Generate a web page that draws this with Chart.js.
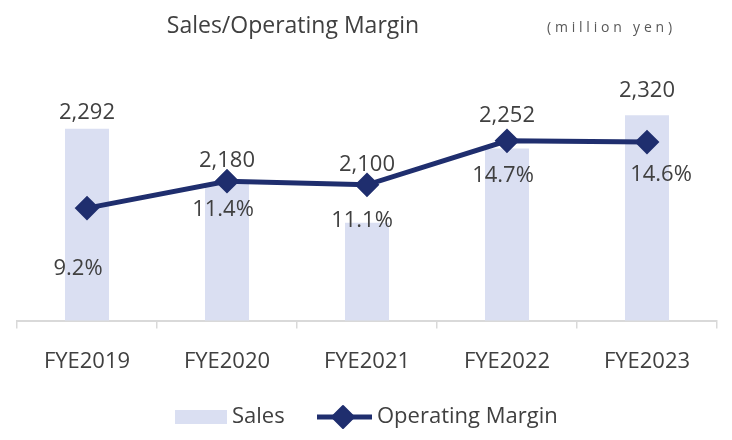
<!DOCTYPE html>
<html>
<head>
<meta charset="utf-8">
<script src="https://cdn.jsdelivr.net/npm/chart.js@4/dist/chart.umd.min.js"></script>
<style>
  html, body { margin: 0; padding: 0; background: #ffffff; }
  #wrap { width: 732px; height: 440px; position: relative; }
</style>
</head>
<body>
<div id="wrap"><canvas id="c" width="732" height="440"></canvas></div>
<script>
// ---- data ----
const categories = ["FYE2019", "FYE2020", "FYE2021", "FYE2022", "FYE2023"];
const salesValues = [2292, 2180, 2100, 2252, 2320];
const marginValues = [9.2, 11.4, 11.1, 14.7, 14.6];
const salesLabels = ["2,292", "2,180", "2,100", "2,252", "2,320"];
const marginLabels = ["9.2%", "11.4%", "11.1%", "14.7%", "14.6%"];
const chartTitle = "Sales/Operating Margin";
const unitText = "(million yen)";

const FONT = '"Open Sans", "Noto Sans", sans-serif';
const TEXT = '#404040';
const BAR = '#dadff2';
const NAVY = '#1f2e6e';

const labelPlugin = {
  id: 'labelPlugin',
  afterDatasetsDraw(chart) {
    const ctx = chart.ctx;
    const bars = chart.getDatasetMeta(0).data;
    const pts = chart.getDatasetMeta(1).data;
    const salesOff = [16, 20, 20, 25, 24];
    const pctDy = [61, 29, 36, 35, 33];
    const pctDx = [-9, -4, -5, -4, 14];
    ctx.save();
    ctx.fillStyle = TEXT;
    ctx.font = '22px ' + FONT;
    ctx.textAlign = 'center';
    ctx.textBaseline = 'middle';
    for (let i = 0; i < categories.length; i++) {
      const bx = bars[i].x;
      const top = Math.min(bars[i].y, pts[i].y);
      ctx.fillText(salesLabels[i], bx, top - salesOff[i]);
      ctx.fillText(marginLabels[i], pts[i].x + pctDx[i], pts[i].y + pctDy[i]);
    }
    ctx.restore();
  },
  afterDraw(chart) {
    const ctx = chart.ctx;
    ctx.save();
    // title
    ctx.fillStyle = TEXT;
    ctx.font = '23px ' + FONT;
    ctx.textAlign = 'center';
    ctx.textBaseline = 'middle';
    ctx.fillText(chartTitle, 293, 26);
    // unit
    ctx.fillStyle = '#595959';
    ctx.font = '14px ' + FONT;
    ctx.letterSpacing = '3.8px';
    ctx.textAlign = 'left';
    ctx.fillText(unitText, 547, 28);
    ctx.letterSpacing = '0px';
    // legend
    const ly = 417;
    ctx.fillStyle = BAR;
    ctx.fillRect(175, 410, 52, 14);
    ctx.fillStyle = TEXT;
    ctx.font = '22px ' + FONT;
    ctx.textAlign = 'left';
    ctx.fillText(chart.data.datasets[0].label, 232, ly);
    ctx.strokeStyle = NAVY;
    ctx.lineWidth = 5;
    ctx.beginPath();
    ctx.moveTo(317, ly); ctx.lineTo(372, ly);
    ctx.stroke();
    ctx.fillStyle = NAVY;
    ctx.lineJoin = 'round';
    ctx.lineWidth = 2;
    ctx.beginPath();
    ctx.moveTo(343, ly - 11); ctx.lineTo(354, ly); ctx.lineTo(343, ly + 11); ctx.lineTo(332, ly);
    ctx.closePath();
    ctx.fill(); ctx.stroke();
    ctx.fillStyle = TEXT;
    ctx.fillText(chart.data.datasets[1].label, 377, ly);
    ctx.restore();
  }
};

new Chart(document.getElementById('c'), {
  data: {
    labels: categories,
    datasets: [
      {
        type: 'bar',
        label: 'Sales',
        data: salesValues,
        backgroundColor: BAR,
        yAxisID: 'ySales',
        categoryPercentage: 1,
        barPercentage: 0.314,
        order: 2
      },
      {
        type: 'line',
        label: 'Operating Margin',
        data: marginValues,
        borderColor: NAVY,
        backgroundColor: NAVY,
        borderWidth: 5,
        pointStyle: 'rectRot',
        pointRadius: 11,
        pointBorderWidth: 2,
        pointBackgroundColor: NAVY,
        pointBorderColor: NAVY,
        tension: 0,
        yAxisID: 'yPct',
        order: 1
      }
    ]
  },
  options: {
    responsive: false,
    animation: false,
    layout: { padding: { left: 17, right: 15, top: 76, bottom: 45 } },
    plugins: {
      legend: { display: false },
      title: { display: false },
      tooltip: { enabled: false }
    },
    scales: {
      x: {
        offset: true,
        grid: {
          offset: true,
          drawOnChartArea: false,
          drawTicks: true,
          tickLength: 8,
          color: '#d9d9d9',
          lineWidth: 1.5
        },
        border: { display: true, color: '#d9d9d9', width: 2 },
        ticks: { color: TEXT, font: { family: FONT, size: 22 }, padding: 20 }
      },
      ySales: {
        display: false,
        position: 'left',
        min: 1900,
        max: 2400
      },
      yPct: {
        display: false,
        position: 'right',
        min: 0,
        max: 20
      }
    }
  },
  plugins: [labelPlugin]
});
</script>
</body>
</html>
